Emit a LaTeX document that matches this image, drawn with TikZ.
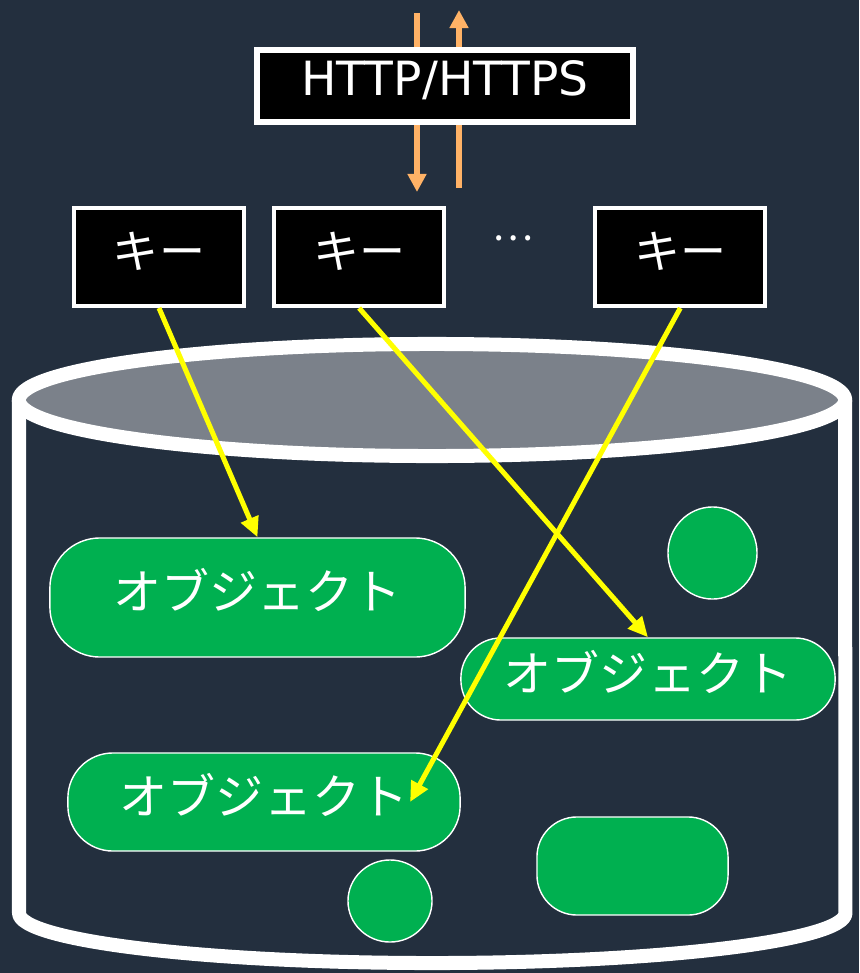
\documentclass[tikz,border=0pt]{standalone}
\usepackage{fontspec}
\setmainfont{DejaVu Sans}
\newfontfamily\jpfont{Noto Sans CJK JP}
\usepackage{tikz}
\usetikzlibrary{positioning}
\usetikzlibrary{shapes,arrows.meta}

\definecolor{squid}{RGB}{35,47,62}
\definecolor{lidgray}{RGB}{123,129,138}
\definecolor{objgreen}{RGB}{0,176,80}
\definecolor{weborange}{RGB}{255,178,102}
\definecolor{keyyellow}{RGB}{255,255,0}

\tikzset{
  drum/.style={draw=white, line width=0.14cm, line join=round},
  keybox/.style={draw=white, fill=black, line width=0.04cm, minimum width=1.7cm, minimum height=0.98cm, inner sep=0pt, text=white, font=\jpfont\fontsize{13.1pt}{15pt}\selectfont, text height=0.37cm, text depth=0.14cm},
  protobox/.style={draw=white, fill=black, line width=0.06cm, minimum width=3.76cm, minimum height=0.72cm, inner sep=0pt, text=white, font=\fontsize{13.4pt}{16pt}\selectfont, text height=0.34cm, text depth=0.16cm},
  obj/.style={draw=white, fill=objgreen, line width=0.4pt, inner sep=0pt, text=white, font=\jpfont\fontsize{13.66pt}{16pt}\selectfont, text height=0.38cm, text depth=0.14cm},
  blob/.style={draw=white, fill=objgreen, line width=0.4pt, inner sep=0pt, ellipse},
  keyarrow/.style={-{Triangle[length=0.2cm, width=0.18cm]}, draw=keyyellow, line width=0.05cm},
  webarrow/.style={-{Triangle[length=0.18cm, width=0.18cm]}, draw=weborange, line width=0.055cm}
}

\begin{document}
\begin{tikzpicture}[x=0.01cm, y=-0.01cm]
\fill[squid] (0,0) rectangle (859,973);
\useasboundingbox (0,0) rectangle (859,973);

% bucket %
\draw[drum, fill=squid] (19,400) -- (19,913) arc[start angle=180, end angle=360, x radius=4.13cm, y radius=0.5cm] -- (845,400);
\draw[drum, fill=lidgray] (432,400) ellipse [x radius=4.13cm, y radius=0.56cm];

% http arrows %
\coordinate (getin) at (417,13);
\coordinate (getout) at (417,192);
\coordinate (retin) at (459,188);
\coordinate (retout) at (459,10);
\draw[webarrow] (getin) -- (getout);
\draw[webarrow] (retin) -- (retout);

% nodes %
\node[protobox] (http) at (445,86) {HTTP/HTTPS};

\node[keybox] (key1) at (159,257) {キー};
\node[keybox, right = 0.26cm of key1] (key2) {キー};
\node[keybox, right = 1.47cm of key2] (key3) {キー};
\node[text=white, font=\jpfont\fontsize{11pt}{13pt}\selectfont] (dots) at (513,238) {…};

\node[obj, minimum width=4.15cm, minimum height=1.19cm, rounded corners=0.5cm] (obj1) at (257.5,597.5) {オブジェクト};
\node[obj, minimum width=3.74cm, minimum height=0.82cm, rounded corners=0.4cm] (obj2) at (648,679) {オブジェクト};
\node[obj, minimum width=3.92cm, minimum height=0.98cm, rounded corners=0.45cm] (obj3) at (264,802) {オブジェクト};
\node[obj, minimum width=1.91cm, minimum height=0.98cm, rounded corners=0.4cm] (box4) at (632.5,866) {};
\node[blob, minimum width=0.89cm, minimum height=0.92cm] (dot1) at (712.5,553) {};
\node[blob, minimum width=0.84cm, minimum height=0.82cm] (dot2) at (390,901) {};

% edges %
\coordinate (hit) at ([xshift=1.46cm]obj3.center);
\draw[keyarrow] (key1.south) -- (obj1.north);
\draw[keyarrow] (key2.south) -- (obj2.north);
\draw[keyarrow] (key3.south) -- (hit);

\end{tikzpicture}
\end{document}
